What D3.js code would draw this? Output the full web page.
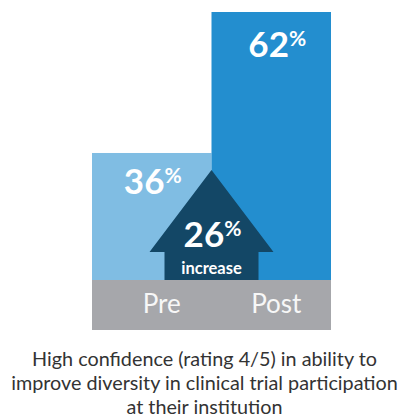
<!DOCTYPE html>
<html>
<head>
<meta charset="utf-8">
<script src="https://cdn.jsdelivr.net/npm/d3@7"></script>
<style>
  html, body { margin: 0; padding: 0; background: #ffffff; }
  svg { display: block; font-family: Lato, "Open Sans", sans-serif; }
</style>
</head>
<body>
<svg id="chart" width="402" height="419"></svg>
<script>
// ---- data ----
const categories = ["Pre", "Post"];
const values = [36, 62];
const increaseValue = 26;
const increaseLabel = "increase";
const titleLines = [
  "High confidence (rating 4/5) in ability to",
  "improve diversity in clinical trial participation",
  "at their institution"
];

// ---- layout ----
const svg = d3.select("#chart");
const barColors = ["#80bde3", "#238ecf"];
const arrowColor = "#134766";
const bandColor = "#a6a7ab";

const left = 92, right = 331;
const baseY = 280, bandBottom = 330;

const x = d3.scaleBand().domain(categories).range([left, right]).padding(0);
const y = d3.scaleLinear().domain([0, 62]).range([348.2, 12]);

// bars
svg.selectAll("rect.bar")
  .data(categories)
  .join("rect")
  .attr("class", "bar")
  .attr("x", d => x(d))
  .attr("width", x.bandwidth())
  .attr("y", (d, i) => y(values[i]))
  .attr("height", (d, i) => baseY - y(values[i]))
  .attr("fill", (d, i) => barColors[i]);

// axis band
svg.append("rect")
  .attr("x", left).attr("width", right - left)
  .attr("y", baseY).attr("height", bandBottom - baseY)
  .attr("fill", bandColor);

// category labels
svg.selectAll("text.cat")
  .data(categories)
  .join("text")
  .attr("class", "cat")
  .attr("x", (d, i) => x(d) + x.bandwidth() / 2 + (i === 0 ? 10 : 5))
  .attr("y", 313)
  .attr("text-anchor", "middle")
  .attr("font-size", 26)
  .attr("fill", "#f7f7f7")
  .text(d => d);

// arrow
const cx = x("Post");
const tipY = 170, headY = 252, headHalf = 62, shaftHalf = 47;
svg.append("path")
  .attr("d", d3.line()([
    [cx, tipY], [cx + headHalf, headY], [cx + shaftHalf, headY], [cx + shaftHalf, baseY],
    [cx - shaftHalf, baseY], [cx - shaftHalf, headY], [cx - headHalf, headY]
  ]) + "Z")
  .attr("fill", arrowColor);

// value labels
function pctLabel(g, cxp, by, v) {
  const t = g.append("text")
    .attr("x", cxp).attr("y", by)
    .attr("text-anchor", "middle")
    .attr("fill", "#ffffff")
    .attr("font-weight", 700)
    .attr("font-size", 35);
  t.append("tspan").text(v);
  t.append("tspan").attr("font-size", 21).attr("dy", -11).text("%");
  return t;
}
const labelBase = [194, 57];
categories.forEach((c, i) => {
  pctLabel(svg, x(c) + x.bandwidth() / 2 + (i === 0 ? 1 : 6), labelBase[i], values[i]);
});
pctLabel(svg, cx + 1, 247, increaseValue);
svg.append("text")
  .attr("x", cx).attr("y", 274)
  .attr("text-anchor", "middle")
  .attr("fill", "#ffffff")
  .attr("font-weight", 700)
  .attr("font-size", 16.5)
  .text(increaseLabel);

// title
svg.append("text")
  .attr("text-anchor", "middle")
  .attr("font-size", 19.8)
  .attr("fill", "#333333")
  .selectAll("tspan")
  .data(titleLines)
  .join("tspan")
  .attr("x", 204.5)
  .attr("y", (d, i) => 366 + i * 24)
  .text(d => d);
</script>
</body>
</html>
